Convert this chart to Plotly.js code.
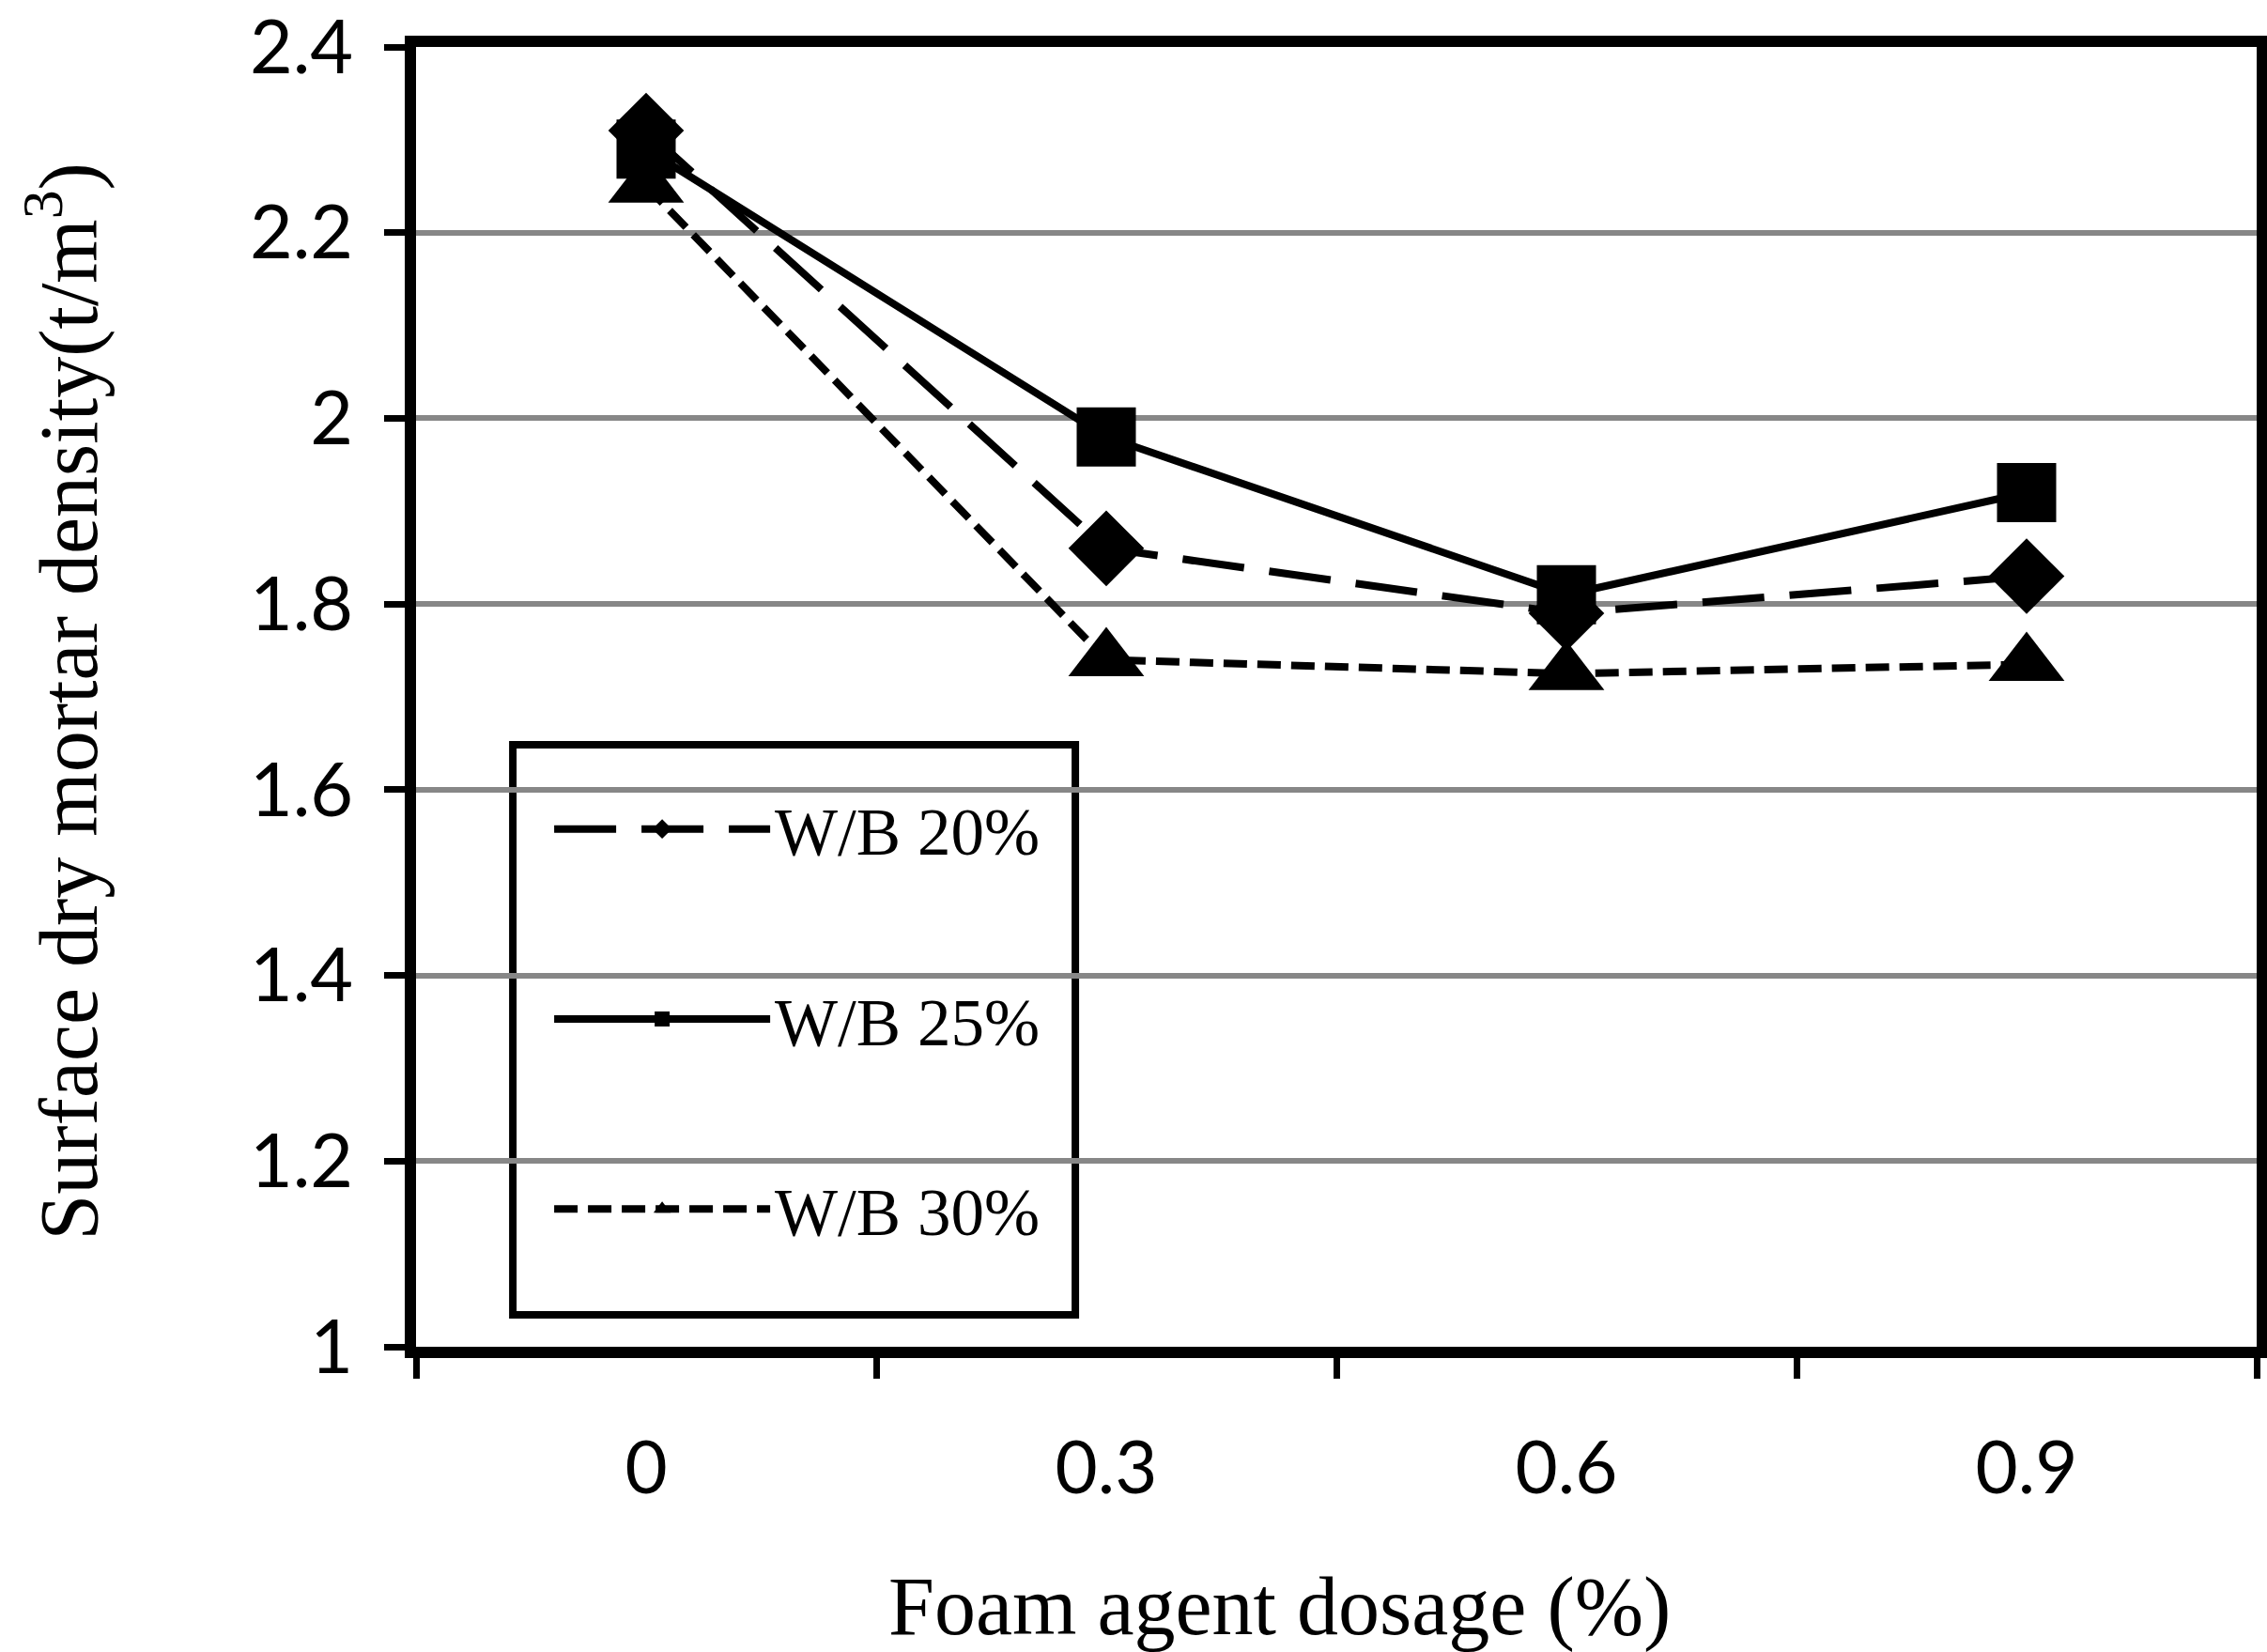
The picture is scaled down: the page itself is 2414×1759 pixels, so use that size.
<!DOCTYPE html>
<html>
<head>
<meta charset="utf-8">
<script src="https://cdn.plot.ly/plotly-3.0.1.min.js"></script>
<style>
  html, body { margin: 0; padding: 0; background: #ffffff; }
  #chart { width: 2414px; height: 1759px; }
</style>
</head>
<body>
<div id="chart"></div>
<script>
// ---- data ----
const dosageLabels = ['0', '0.3', '0.6', '0.9'];
const seriesNames = ['W/B 20%', 'W/B 25%', 'W/B 30%'];
const wb20 = [2.31, 1.86, 1.79, 1.83];
const wb25 = [2.29, 1.98, 1.81, 1.92];
const wb30 = [2.25, 1.74, 1.725, 1.735];
const yTickVals = [1, 1.2, 1.4, 1.6, 1.8, 2, 2.2, 2.4];
const yTickText = ['1', '1.2', '1.4', '1.6', '1.8', '2', '2.2', '2.4'];
const xTitle = 'Foam agent dosage (%)';
const yTitle = 'Surface dry mortar density(t/m<sup>3</sup>)';

const serif = 'Liberation Serif, Times New Roman, serif';
const sans = 'Lato, Liberation Sans, sans-serif';

function trace(name, y, symbol, size, dash, group) {
  return {
    type: 'scatter',
    mode: 'lines+markers',
    name: name,
    x: dosageLabels,
    y: y,
    legendgroup: group,
    line: { color: '#000000', width: 8, dash: dash },
    marker: { symbol: symbol, size: size, color: '#000000' },
    cliponaxis: false
  };
}

const data = [
  trace(seriesNames[0], wb20, 'diamond', 62, '66px,27px', 'g1'),
  trace(seriesNames[1], wb25, 'square', 63, 'solid', 'g2'),
  trace(seriesNames[2], wb30, 'triangle-up', 70, '25px,11px', 'g3')
];

const layout = {
  width: 2414,
  height: 1759,
  paper_bgcolor: '#ffffff',
  plot_bgcolor: '#ffffff',
  margin: { l: 443, r: 11, t: 50, b: 325 },
  showlegend: true,
  legend: {
    x: 0.0725, y: 0.4364, xanchor: 'left', yanchor: 'top',
    bgcolor: 'rgba(0,0,0,0)', borderwidth: 0,
    font: { family: serif, size: 71, color: '#000000' },
    itemwidth: 230,
    tracegroupgap: 107,
    traceorder: 'grouped'
  },
  xaxis: {
    type: 'category',
    categoryorder: 'array',
    categoryarray: dosageLabels,
    range: [-0.5, 3.5],
    tickson: 'boundaries',
    ticks: 'outside', ticklen: 22, tickwidth: 7, tickcolor: '#000000',
    showline: true, linewidth: 12, linecolor: '#000000', mirror: true,
    showgrid: false, zeroline: false,
    ticklabelstandoff: 50,
    ticklabeloverflow: 'allow',
    tickfont: { family: sans, size: 78, color: '#000000' }
  },
  yaxis: {
    range: [1, 2.4],
    tickmode: 'array',
    tickvals: yTickVals,
    ticktext: yTickText,
    ticks: 'outside', ticklen: 22, tickwidth: 7, tickcolor: '#000000',
    showline: true, linewidth: 12, linecolor: '#000000', mirror: true,
    showgrid: true, gridcolor: '#878787', gridwidth: 6,
    zeroline: false,
    ticklabelstandoff: 17,
    ticklabeloverflow: 'allow',
    tickfont: { family: sans, size: 79, color: '#000000' }
  },
  annotations: [{
    text: xTitle, xref: 'paper', yref: 'paper',
    x: 0.4689, y: -0.2001, xanchor: 'center', yanchor: 'middle',
    showarrow: false,
    font: { family: serif, size: 88, color: '#000000' }
  }, {
    text: yTitle, xref: 'paper', yref: 'paper',
    x: -0.1920, y: 0.4964, xanchor: 'center', yanchor: 'middle',
    textangle: -90, showarrow: false,
    font: { family: serif, size: 88, color: '#000000' }
  }],
  shapes: [{
    type: 'rect', xref: 'paper', yref: 'paper', layer: 'between',
    x0: 0.0526, x1: 0.3582, y0: 0.0246, y1: 0.4632,
    line: { color: '#000000', width: 8 },
    fillcolor: '#ffffff'
  }]
};

Plotly.newPlot('chart', data, layout, { displayModeBar: false, staticPlot: true });
</script>
</body>
</html>
